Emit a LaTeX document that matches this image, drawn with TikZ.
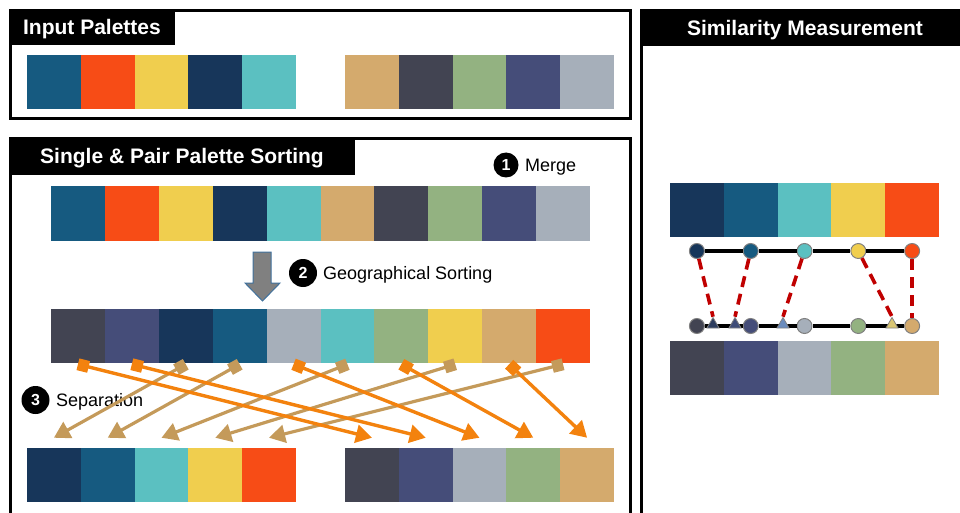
\documentclass[tikz,border=0pt]{standalone}
\usepackage{fontspec}
\setmainfont{Liberation Sans}
\usetikzlibrary{arrows.meta,shapes.geometric,calc}

% palette colours
\definecolor{cBlue}{HTML}{165A80}
\definecolor{cOrange}{HTML}{F74C16}
\definecolor{cYellow}{HTML}{F0CE4E}
\definecolor{cNavy}{HTML}{17365A}
\definecolor{cTeal}{HTML}{5BC0C1}
\definecolor{cTan}{HTML}{D4AA6D}
\definecolor{cCharcoal}{HTML}{424452}
\definecolor{cGreen}{HTML}{93B281}
\definecolor{cSlate}{HTML}{454D79}
\definecolor{cGray}{HTML}{A6AFBA}
% connector colours
\definecolor{arrOrange}{HTML}{F3820E}
\definecolor{arrTan}{HTML}{C49A5A}
\definecolor{linkRed}{HTML}{C00000}
\definecolor{outlineBlue}{HTML}{41719C}

\begin{document}
\begin{tikzpicture}[x=1pt,y=-1pt,
  swatch/.style={minimum width=53.9pt,minimum height=54.5pt,inner sep=0pt,outer sep=0pt},
  panel/.style={draw=black,line width=3pt},
  titlebar/.style={fill=black},
  titletext/.style={text=white,font=\bfseries\fontsize{21}{24}\selectfont,inner sep=0pt,
    text height=15pt,text depth=0pt},
  badge/.style={circle,fill=black,text=white,font=\bfseries\fontsize{16}{16}\selectfont,
    inner sep=0pt,minimum size=#1,text height=11.5pt,text depth=0pt},
  badge/.default=25pt,
  steplabel/.style={anchor=west,font=\fontsize{18}{20}\selectfont,inner sep=0pt,
    text height=13pt,text depth=0pt},
  toright/.style={draw=arrOrange,line width=3.4pt,
    {Square[length=11pt,width=12pt]}-{Triangle[length=16pt,width=18pt]}},
  toleft/.style={draw=arrTan,line width=3.2pt,
    {Square[length=11pt,width=12pt]}-{Triangle[length=16pt,width=18pt]}},
  dot/.style={circle,draw=black!50,line width=1pt,minimum size=15pt,inner sep=0pt},
  tri/.style={regular polygon,regular polygon sides=3,draw=black!50,line width=0.8pt,
    minimum size=14pt,inner sep=0pt},
  link/.style={draw=linkRed,line width=3.6pt,dash pattern=on 11pt off 7pt}
]
\clip (0,0) rectangle (960,513);

% ---------------- panels ----------------
\draw[panel] (10.5,10.5) rectangle (630,119);
\draw[panel] (10.5,138.5) rectangle (630,540);
\draw[panel] (641,10.5) rectangle (990,540);

\fill[titlebar] (9,9) rectangle (175,45);
\node[titletext] (t1) at (92,27.5) {Input Palettes};
\fill[titlebar] (9,137) rectangle (355,175);
\node[titletext] (t2) at (182,156.5) {Single \& Pair Palette Sorting};
\fill[titlebar] (641,9) rectangle (960,46);
\node[titletext] (t3) at (805,28.5) {Similarity Measurement};

% ---------------- input palettes ----------------
\foreach \c [count=\i] in {cBlue,cOrange,cYellow,cNavy,cTeal}
  \node[swatch,fill=\c,minimum width=53.8pt] (ia\i) at ({27+53.8*(\i-0.5)},82) {};
\foreach \c [count=\i] in {cTan,cCharcoal,cGreen,cSlate,cGray}
  \node[swatch,fill=\c,minimum width=53.8pt] (ib\i) at ({345+53.8*(\i-0.5)},82) {};

% ---------------- merged palette ----------------
\foreach \c [count=\i] in {cBlue,cOrange,cYellow,cNavy,cTeal,cTan,cCharcoal,cGreen,cSlate,cGray}
  \node[swatch,fill=\c,minimum height=55pt] (m\i) at ({51+53.9*(\i-0.5)},213.5) {};
\node[badge=25pt] (n1) at (506,165) {1};
\node[steplabel] (l1) at (525,165) {Merge};

% ---------------- geographical sorting ----------------
\filldraw[fill=black!50,draw=outlineBlue,line width=1pt]
  (253,252) -- (271,252) -- (271,283) -- (280,283) -- (262.5,301)
  -- (245,283) -- (253,283) -- cycle;
\node[badge=28pt] (n2) at (303,273) {2};
\node[steplabel] (l2) at (323,273) {Geographical Sorting};

\foreach \c [count=\i] in {cCharcoal,cSlate,cNavy,cBlue,cGray,cTeal,cGreen,cYellow,cTan,cOrange}
  \node[swatch,fill=\c] (s\i) at ({51+53.9*(\i-0.5)},336) {};

% ---------------- separation ----------------
\node[badge=28pt] (n3) at (35.5,400) {3};
\node[steplabel] (l3) at (56,400) {Separation};

\foreach \c [count=\i] in {cNavy,cBlue,cTeal,cYellow,cOrange}
  \node[swatch,fill=\c,minimum width=53.8pt] (pl\i) at ({27+53.8*(\i-0.5)},475) {};
\foreach \c [count=\i] in {cCharcoal,cSlate,cGray,cGreen,cTan}
  \node[swatch,fill=\c,minimum width=53.8pt] (pr\i) at ({345+53.8*(\i-0.5)},475) {};

% first palette goes back to the left
\foreach \a/\b in {3/1,4/2,6/3,8/4,10/5}
  \draw[toleft] ([yshift=-1pt]s\a.south) -- ([yshift=10pt]pl\b.north);
% second palette goes to the right
\foreach \a/\b in {1/1,2/2,5/3,7/4,9/5}
  \draw[toright] ([yshift=-1pt]s\a.south) -- ([yshift=10pt]pr\b.north);

% ---------------- similarity measurement ----------------
\foreach \c [count=\i] in {cNavy,cBlue,cTeal,cYellow,cOrange}
  \node[swatch,fill=\c,minimum width=53.8pt] (ra\i) at ({670+53.8*(\i-0.5)},210) {};
\foreach \c [count=\i] in {cCharcoal,cSlate,cGray,cGreen,cTan}
  \node[swatch,fill=\c,minimum width=53.8pt] (rb\i) at ({670+53.8*(\i-0.5)},368) {};

\foreach \c [count=\i] in {cNavy,cBlue,cTeal,cYellow,cOrange}
  \node[dot,fill=\c] (a\i) at ({670+53.8*(\i-0.5)},251) {};
\foreach \c [count=\i] in {cCharcoal,cSlate,cGray,cGreen,cTan}
  \node[dot,fill=\c] (b\i) at ({670+53.8*(\i-0.5)},326) {};

\draw[line width=4pt] (a1) -- (a2) -- (a3) -- (a4) -- (a5);
\draw[line width=4pt] (b1) -- (b2) -- (b3) -- (b4) -- (b5);

\node[tri,fill={rgb,255:red,44;green,60;blue,94}]    (tr1) at (713,324.5) {};
\node[tri,fill={rgb,255:red,62;green,76;blue,120}]   (tr2) at (735,324.5) {};
\node[tri,fill={rgb,255:red,106;green,140;blue,190}] (tr3) at (783,324.5) {};
\node[tri,fill={rgb,255:red,217;green,198;blue,115}] (tr4) at (892,324.5) {};

\draw[link] (a1) -- (tr1.north);
\draw[link] (a2) -- (tr2.north);
\draw[link] (a3) -- (tr3.north);
\draw[link] (a4) -- (tr4.north);
\draw[link] (a5) -- (b5);
\end{tikzpicture}
\end{document}
